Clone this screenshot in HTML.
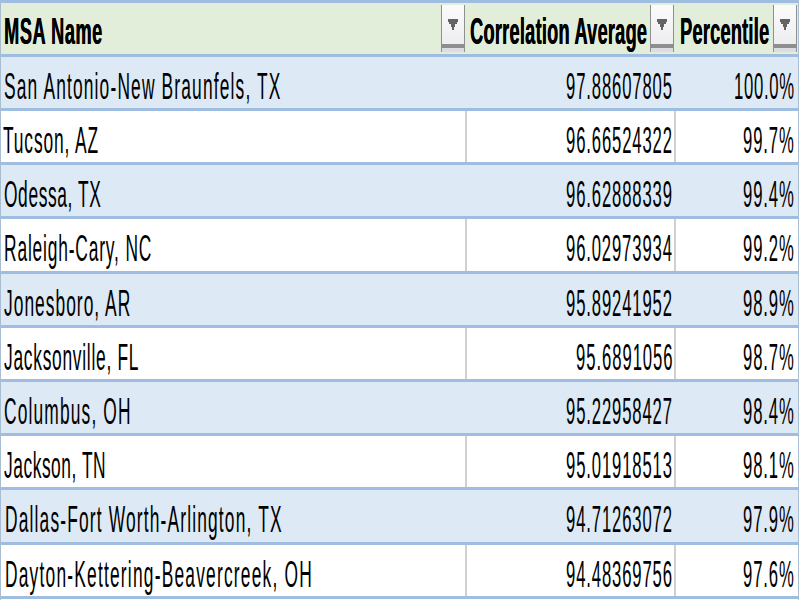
<!DOCTYPE html><html><head><meta charset="utf-8"><style>
html,body{margin:0;padding:0;width:800px;height:600px;overflow:hidden;background:#fff}
.a{position:absolute}
.t{position:absolute;font-family:"Liberation Sans",sans-serif;white-space:pre;color:#000;line-height:60px;height:60px;transform-origin:0 0}
.n{font-size:37.0px;}
.h{font-size:37.0px;font-weight:bold;text-shadow:0.6px 0 0 #000;}
.btn{position:absolute;top:5px;height:47px;width:24px;background:linear-gradient(#fbfbfc,#ebebef);border-left:1px solid #8f8f8f;border-right:1px solid #8f8f8f;box-sizing:border-box}
.btn .bar{position:absolute;left:0;right:0;top:39px;height:4px;background:#8e8e8e}
.btn .bar2{position:absolute;left:0;right:0;top:43px;height:4px;background:#dcdce2}
.tri{position:absolute;background:#646464}
</style></head><body>
<div class="a" style="left:0;top:0;width:798px;height:54px;background:#e2eed9"></div>
<div class="a" style="left:0;top:53.8px;width:798px;height:54.2px;background:#dde9f5"></div>
<div class="a" style="left:0;top:108.0px;width:798px;height:54.2px;background:#ffffff"></div>
<div class="a" style="left:465px;top:108.0px;width:2px;height:54.2px;background:#d0d0d0"></div>
<div class="a" style="left:674px;top:108.0px;width:2px;height:54.2px;background:#d0d0d0"></div>
<div class="a" style="left:0;top:162.2px;width:798px;height:54.2px;background:#dde9f5"></div>
<div class="a" style="left:0;top:216.4px;width:798px;height:54.2px;background:#ffffff"></div>
<div class="a" style="left:465px;top:216.4px;width:2px;height:54.2px;background:#d0d0d0"></div>
<div class="a" style="left:674px;top:216.4px;width:2px;height:54.2px;background:#d0d0d0"></div>
<div class="a" style="left:0;top:270.6px;width:798px;height:54.2px;background:#dde9f5"></div>
<div class="a" style="left:0;top:324.8px;width:798px;height:54.2px;background:#ffffff"></div>
<div class="a" style="left:465px;top:324.8px;width:2px;height:54.2px;background:#d0d0d0"></div>
<div class="a" style="left:674px;top:324.8px;width:2px;height:54.2px;background:#d0d0d0"></div>
<div class="a" style="left:0;top:379.0px;width:798px;height:54.2px;background:#dde9f5"></div>
<div class="a" style="left:0;top:433.2px;width:798px;height:54.2px;background:#ffffff"></div>
<div class="a" style="left:465px;top:433.2px;width:2px;height:54.2px;background:#d0d0d0"></div>
<div class="a" style="left:674px;top:433.2px;width:2px;height:54.2px;background:#d0d0d0"></div>
<div class="a" style="left:0;top:487.4px;width:798px;height:54.2px;background:#dde9f5"></div>
<div class="a" style="left:0;top:541.6px;width:798px;height:54.2px;background:#ffffff"></div>
<div class="a" style="left:465px;top:541.6px;width:2px;height:54.2px;background:#d0d0d0"></div>
<div class="a" style="left:674px;top:541.6px;width:2px;height:54.2px;background:#d0d0d0"></div>
<div class="a" style="left:0;top:-0.4px;width:799px;height:3px;background:#9ebde1"></div>
<div class="a" style="left:0;top:53.8px;width:799px;height:3px;background:#9ebde1"></div>
<div class="a" style="left:0;top:108.0px;width:799px;height:3px;background:#9ebde1"></div>
<div class="a" style="left:0;top:162.2px;width:799px;height:3px;background:#9ebde1"></div>
<div class="a" style="left:0;top:216.4px;width:799px;height:3px;background:#9ebde1"></div>
<div class="a" style="left:0;top:270.6px;width:799px;height:3px;background:#9ebde1"></div>
<div class="a" style="left:0;top:324.8px;width:799px;height:3px;background:#9ebde1"></div>
<div class="a" style="left:0;top:379.0px;width:799px;height:3px;background:#9ebde1"></div>
<div class="a" style="left:0;top:433.2px;width:799px;height:3px;background:#9ebde1"></div>
<div class="a" style="left:0;top:487.4px;width:799px;height:3px;background:#9ebde1"></div>
<div class="a" style="left:0;top:541.6px;width:799px;height:3px;background:#9ebde1"></div>
<div class="a" style="left:0;top:595.8px;width:799px;height:3px;background:#9ebde1"></div>
<div class="a" style="left:0;top:0;width:1px;height:600px;background:#a9bdd2"></div>
<div class="a" style="left:798px;top:0;width:1px;height:600px;background:#a9bdd2"></div>
<div class="t h" id="h0" style="left:3.75px;top:1.60px;letter-spacing:1.200px;transform:scaleX(0.4900)">MSA Name</div>
<div class="t h" id="h1" style="left:469.70px;top:1.60px;letter-spacing:0.556px;transform:scaleX(0.4900)">Correlation Average</div>
<div class="t h" id="h2" style="left:679.50px;top:1.60px;letter-spacing:0.523px;transform:scaleX(0.4900)">Percentile</div>
<div class="t n" id="n0" style="left:3.50px;top:56.80px;letter-spacing:2.447px;transform:scaleX(0.4700)">San Antonio-New Braunfels, TX</div>
<div class="t n" id="d0" style="left:566.10px;top:56.80px;letter-spacing:1.930px;transform:scaleX(0.4500)">97.88607805</div>
<div class="t n" id="p0" style="left:733.70px;top:56.80px;letter-spacing:1.646px;transform:scaleX(0.4500)">100.0%</div>
<div class="t n" id="n1" style="left:3.30px;top:111.00px;letter-spacing:1.821px;transform:scaleX(0.4700)">Tucson, AZ</div>
<div class="t n" id="d1" style="left:566.10px;top:111.00px;letter-spacing:1.947px;transform:scaleX(0.4500)">96.66524322</div>
<div class="t n" id="p1" style="left:743.20px;top:111.00px;letter-spacing:2.016px;transform:scaleX(0.4500)">99.7%</div>
<div class="t n" id="n2" style="left:3.60px;top:165.20px;letter-spacing:1.273px;transform:scaleX(0.4700)">Odessa, TX</div>
<div class="t n" id="d2" style="left:566.10px;top:165.20px;letter-spacing:1.947px;transform:scaleX(0.4500)">96.62888339</div>
<div class="t n" id="p2" style="left:743.20px;top:165.20px;letter-spacing:2.016px;transform:scaleX(0.4500)">99.4%</div>
<div class="t n" id="n3" style="left:4.00px;top:219.40px;letter-spacing:1.756px;transform:scaleX(0.4700)">Raleigh-Cary, NC</div>
<div class="t n" id="d3" style="left:566.10px;top:219.40px;letter-spacing:1.925px;transform:scaleX(0.4500)">96.02973934</div>
<div class="t n" id="p3" style="left:743.20px;top:219.40px;letter-spacing:2.016px;transform:scaleX(0.4500)">99.2%</div>
<div class="t n" id="n4" style="left:4.00px;top:273.60px;letter-spacing:2.155px;transform:scaleX(0.4700)">Jonesboro, AR</div>
<div class="t n" id="d4" style="left:566.10px;top:273.60px;letter-spacing:1.947px;transform:scaleX(0.4500)">95.89241952</div>
<div class="t n" id="p4" style="left:743.20px;top:273.60px;letter-spacing:2.016px;transform:scaleX(0.4500)">98.9%</div>
<div class="t n" id="n5" style="left:4.00px;top:327.80px;letter-spacing:1.531px;transform:scaleX(0.4700)">Jacksonville, FL</div>
<div class="t n" id="d5" style="left:575.60px;top:327.80px;letter-spacing:2.120px;transform:scaleX(0.4500)">95.6891056</div>
<div class="t n" id="p5" style="left:743.20px;top:327.80px;letter-spacing:2.016px;transform:scaleX(0.4500)">98.7%</div>
<div class="t n" id="n6" style="left:4.00px;top:382.00px;letter-spacing:2.423px;transform:scaleX(0.4700)">Columbus, OH</div>
<div class="t n" id="d6" style="left:566.10px;top:382.00px;letter-spacing:1.947px;transform:scaleX(0.4500)">95.22958427</div>
<div class="t n" id="p6" style="left:743.20px;top:382.00px;letter-spacing:2.016px;transform:scaleX(0.4500)">98.4%</div>
<div class="t n" id="n7" style="left:4.00px;top:436.20px;letter-spacing:1.129px;transform:scaleX(0.4700)">Jackson, TN</div>
<div class="t n" id="d7" style="left:566.10px;top:436.20px;letter-spacing:1.930px;transform:scaleX(0.4500)">95.01918513</div>
<div class="t n" id="p7" style="left:743.20px;top:436.20px;letter-spacing:2.016px;transform:scaleX(0.4500)">98.1%</div>
<div class="t n" id="n8" style="left:5.00px;top:490.40px;letter-spacing:2.454px;transform:scaleX(0.4700)">Dallas-Fort Worth-Arlington, TX</div>
<div class="t n" id="d8" style="left:566.10px;top:490.40px;letter-spacing:1.947px;transform:scaleX(0.4500)">94.71263072</div>
<div class="t n" id="p8" style="left:743.20px;top:490.40px;letter-spacing:2.016px;transform:scaleX(0.4500)">97.9%</div>
<div class="t n" id="n9" style="left:5.00px;top:544.60px;letter-spacing:2.546px;transform:scaleX(0.4700)">Dayton-Kettering-Beavercreek, OH</div>
<div class="t n" id="d9" style="left:566.10px;top:544.60px;letter-spacing:1.930px;transform:scaleX(0.4500)">94.48369756</div>
<div class="t n" id="p9" style="left:743.20px;top:544.60px;letter-spacing:2.016px;transform:scaleX(0.4500)">97.6%</div>
<div class="btn" style="left:441px"><div class="bar"></div><div class="bar2"></div><div class="tri" style="left:6px;top:14px;width:10px;height:3px"></div><div class="tri" style="left:7px;top:17px;width:8px;height:2px"></div><div class="tri" style="left:9px;top:19px;width:4px;height:3px"></div><div class="tri" style="left:10px;top:22px;width:2px;height:3px"></div></div>
<div class="btn" style="left:650px"><div class="bar"></div><div class="bar2"></div><div class="tri" style="left:6px;top:14px;width:10px;height:3px"></div><div class="tri" style="left:7px;top:17px;width:8px;height:2px"></div><div class="tri" style="left:9px;top:19px;width:4px;height:3px"></div><div class="tri" style="left:10px;top:22px;width:2px;height:3px"></div></div>
<div class="btn" style="left:773px"><div class="bar"></div><div class="bar2"></div><div class="tri" style="left:6px;top:14px;width:10px;height:3px"></div><div class="tri" style="left:7px;top:17px;width:8px;height:2px"></div><div class="tri" style="left:9px;top:19px;width:4px;height:3px"></div><div class="tri" style="left:10px;top:22px;width:2px;height:3px"></div></div>
</body></html>
